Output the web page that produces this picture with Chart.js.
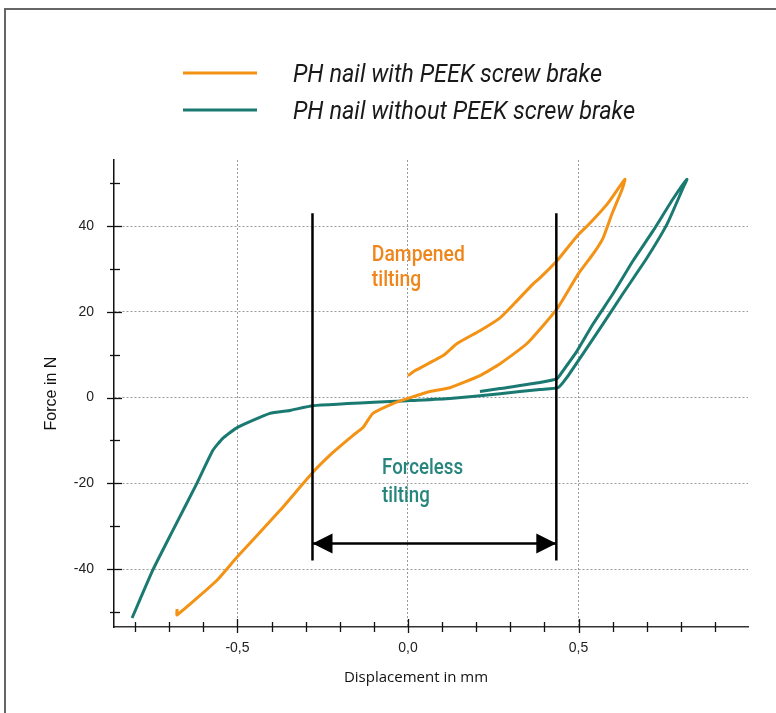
<!DOCTYPE html>
<html>
<head>
<meta charset="utf-8">
<script src="https://cdn.jsdelivr.net/npm/chart.js@4.4.1/dist/chart.umd.min.js"></script>
<style>
  html, body { margin: 0; padding: 0; background: #fff; }
  #wrap { position: relative; width: 776px; height: 713px; overflow: hidden; }
  #frame { position: absolute; left: 4px; top: 8px; width: 900px; height: 900px; border-left: 2px solid #666; border-top: 2px solid #666; }
  canvas { position: absolute; left: 0; top: 0; }
</style>
</head>
<body>
<div id="wrap">
  <div id="frame"></div>
  <canvas id="chart" width="776" height="713"></canvas>
</div>
<script>
// displacement (mm) / force (N)
const withBrakeX = [0.000, 0.021, 0.103, 0.144, 0.211, 0.270, 0.314, 0.367, 0.387, 0.437, 0.496, 0.534, 0.584, 0.636,
  0.628, 0.598, 0.572, 0.543, 0.499, 0.437, 0.349, 0.270, 0.211, 0.123, 0.065, 0.000,
  -0.044, -0.103, -0.132, -0.161, -0.220, -0.282, -0.375, -0.501, -0.560, -0.677, -0.677];
const withBrakeY = [5.1, 6.3, 9.8, 12.6, 15.6, 18.6, 22.1, 26.5, 27.9, 31.9, 37.7, 40.7, 45.1, 50.9,
  48.6, 42.8, 37.2, 33.5, 28.8, 20.7, 12.6, 7.9, 5.1, 2.3, 1.4, -0.2,
  -1.4, -3.7, -7.0, -8.8, -12.8, -17.7, -26.3, -37.2, -42.6, -50.7, -49.3];

const withoutBrakeX = [-0.809, -0.748, -0.689, -0.619, -0.572, -0.543, -0.501, -0.405, -0.346, -0.279, 0.006, 0.123,
  0.270, 0.387, 0.440, 0.466, 0.513, 0.572, 0.630, 0.701, 0.760, 0.806, 0.818,
  0.777, 0.718, 0.660, 0.601, 0.543, 0.496, 0.455, 0.437, 0.387, 0.270, 0.211];
const withoutBrakeY = [-51.4, -40.2, -30.9, -20.0, -12.3, -9.5, -7.0, -3.7, -3.0, -1.9, -0.7, -0.2,
  0.9, 1.9, 2.3, 4.7, 10.2, 17.2, 24.2, 32.6, 40.5, 48.8, 50.9,
  46.3, 38.8, 31.9, 24.2, 17.2, 10.9, 6.3, 4.4, 3.5, 2.1, 1.4];

const xLabelTicks = [-0.5, 0, 0.5];
const yLabelTicks = [-40, -20, 0, 20, 40];
const xTickMarks = [-0.8, -0.7, -0.6, -0.5, -0.4, -0.3, -0.2, -0.1, 0, 0.1, 0.2, 0.3, 0.4, 0.5, 0.6, 0.7, 0.8, 0.9];
const yTickMarks = [-50, -40, -30, -20, -10, 0, 10, 20, 30, 40, 50];

// range of forceless tilting
const zoneLimits = [-0.28, 0.435];
const zoneForce = [43, -38];
const arrowForce = -34;

const notes = [
  { lines: ["Dampened", "tilting"], x: -0.106, y: [31.9, 26.0], color: "#ef861c", width: 93 },
  { lines: ["Forceless", "tilting"], x: -0.076, y: [-17.9, -24.4], color: "#26857c", width: 81 }
];

const orange = "#f39214";
const teal = "#1a7a72";

function points(xs, ys) {
  return xs.map((v, i) => ({ x: v, y: ys[i] }));
}

function isMajor(v, list) {
  return list.some(m => Math.abs(m - v) < 1e-6);
}

// the original uses a condensed face, so squeeze horizontally
function squeezed(ctx, text, x, y, k) {
  ctx.save();
  ctx.translate(x, y);
  ctx.scale(k, 1);
  ctx.fillText(text, 0, 0);
  ctx.restore();
}

const decor = {
  id: "decor",
  afterDraw(chart) {
    const { ctx, chartArea, scales: { x, y } } = chart;
    ctx.save();

    // tick marks crossing the axes
    ctx.strokeStyle = "#111";
    ctx.lineWidth = 1.3;
    yTickMarks.forEach(v => {
      const py = Math.round(y.getPixelForValue(v)) + 0.5;
      const major = isMajor(v, yLabelTicks);
      ctx.beginPath();
      ctx.moveTo(chartArea.left - (major ? 7 : 4), py);
      ctx.lineTo(chartArea.left + (major ? 8 : 6), py);
      ctx.stroke();
    });
    xTickMarks.forEach(v => {
      const px = Math.round(x.getPixelForValue(v)) + 0.5;
      const major = isMajor(v, xLabelTicks);
      ctx.beginPath();
      ctx.moveTo(px, chartArea.bottom - (major ? 8 : 5));
      ctx.lineTo(px, chartArea.bottom + (major ? 6 : 5));
      ctx.stroke();
    });

    // arrow heads
    const ay = y.getPixelForValue(arrowForce);
    const [xl, xr] = zoneLimits.map(v => x.getPixelForValue(v));
    ctx.fillStyle = "#000";
    ctx.beginPath();
    ctx.moveTo(xl, ay);
    ctx.lineTo(xl + 20, ay - 10);
    ctx.lineTo(xl + 20, ay + 10);
    ctx.closePath();
    ctx.fill();
    ctx.beginPath();
    ctx.moveTo(xr, ay);
    ctx.lineTo(xr - 20, ay - 10);
    ctx.lineTo(xr - 20, ay + 10);
    ctx.closePath();
    ctx.fill();

    // notes in the plot
    ctx.font = "500 22px Roboto, sans-serif";
    ctx.textAlign = "left";
    ctx.textBaseline = "alphabetic";
    notes.forEach(n => {
      ctx.fillStyle = n.color;
      const k = n.width / ctx.measureText(n.lines[0]).width;
      n.lines.forEach((t, i) => squeezed(ctx, t, x.getPixelForValue(n.x), y.getPixelForValue(n.y[i]), k));
    });

    // legend
    const legendItems = chart.data.datasets.filter(d => d.inLegend);
    ctx.font = "italic 26px Roboto, sans-serif";
    const lk = 309 / ctx.measureText(legendItems[0].label).width;
    legendItems.forEach((d, i) => {
      const ly = 73 + i * 37;
      ctx.strokeStyle = d.borderColor;
      ctx.lineWidth = 3;
      ctx.beginPath();
      ctx.moveTo(183, ly);
      ctx.lineTo(257, ly);
      ctx.stroke();
      ctx.fillStyle = "#1a1a1a";
      squeezed(ctx, d.label, 293, ly + 9, lk);
    });

    // x axis title
    ctx.font = '15px "Open Sans", "Liberation Sans", sans-serif';
    ctx.fillStyle = "#111";
    ctx.textAlign = "center";
    ctx.fillText("Displacement in mm", 416, 682);

    ctx.restore();
  }
};

const lineStyle = { showLine: true, pointRadius: 0, borderWidth: 3, fill: false };

const limitSets = zoneLimits.map(v => ({
  label: "limit",
  data: zoneForce.map(f => ({ x: v, y: f })),
  borderColor: "#000",
  ...lineStyle,
  borderWidth: 2.5
}));

new Chart(document.getElementById("chart"), {
  type: "scatter",
  data: {
    datasets: [
      ...limitSets,
      {
        label: "arrow",
        data: zoneLimits.map(v => ({ x: v, y: arrowForce })),
        borderColor: "#000",
        ...lineStyle,
        borderWidth: 2.5
      },
      {
        label: "PH nail with PEEK screw brake",
        inLegend: true,
        data: points(withBrakeX, withBrakeY),
        borderColor: orange,
        ...lineStyle,
        tension: 0.15
      },
      {
        label: "PH nail without PEEK screw brake",
        inLegend: true,
        data: points(withoutBrakeX, withoutBrakeY),
        borderColor: teal,
        ...lineStyle,
        tension: 0.15
      }
    ]
  },
  options: {
    responsive: false,
    animation: false,
    devicePixelRatio: 1,
    layout: { padding: { top: 160, right: 28, left: 0, bottom: 0 } },
    plugins: { legend: { display: false }, tooltip: { enabled: false } },
    scales: {
      x: {
        type: "linear",
        min: -0.862,
        max: 0.997,
        afterBuildTicks: axis => { axis.ticks = xLabelTicks.map(v => ({ value: v })); },
        afterFit: axis => { axis.height = 86; },
        ticks: {
          padding: 13,
          color: "#222",
          font: { family: '"Liberation Sans", Arial, sans-serif', size: 14 },
          callback: v => v.toFixed(1).replace(".", ",")
        },
        grid: { color: "#9a9a9a", lineWidth: 1, drawTicks: false },
        border: { display: true, color: "#333", width: 1.5, dash: [2, 2] }
      },
      y: {
        type: "linear",
        min: -53.5,
        max: 55.4,
        afterBuildTicks: axis => { axis.ticks = yLabelTicks.map(v => ({ value: v })); },
        afterFit: axis => { axis.width = 114; },
        ticks: {
          padding: 20,
          color: "#222",
          font: { family: '"Liberation Sans", Arial, sans-serif', size: 14 },
          callback: v => String(v)
        },
        title: {
          display: true,
          text: "Force in N",
          color: "#111",
          font: { family: '"Liberation Sans", Arial, sans-serif', size: 16 },
          padding: { top: 42, bottom: 0 }
        },
        grid: { color: "#9a9a9a", lineWidth: 1, drawTicks: false },
        border: { display: true, color: "#111", width: 1.5, dash: [2, 2] }
      }
    }
  },
  plugins: [decor]
});
</script>
</body>
</html>
